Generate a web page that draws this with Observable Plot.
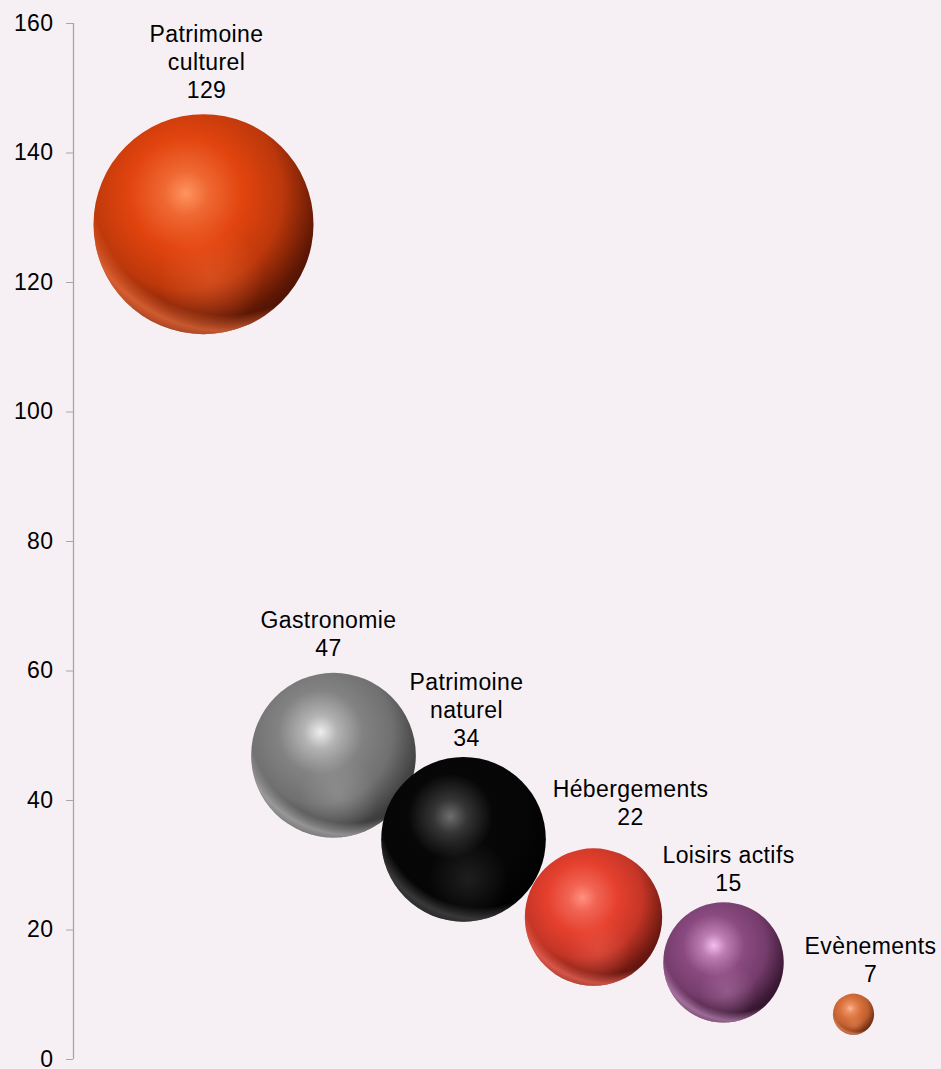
<!DOCTYPE html>
<html>
<head>
<meta charset="utf-8">
<script src="https://cdn.jsdelivr.net/npm/d3@7"></script>
<script src="https://cdn.jsdelivr.net/npm/@observablehq/plot@0.6"></script>
<style>
  html, body { margin: 0; padding: 0; background: #f6f0f5; }
  #chart svg text { letter-spacing: 0.4px; }
</style>
</head>
<body>
<div id="chart"></div>
<script>
// ---- Data ----
const categories = ["Patrimoine\nculturel", "Gastronomie", "Patrimoine\nnaturel", "Hébergements", "Loisirs actifs", "Evènements"];
const valeurs = [129, 47, 34, 22, 15, 7];
const tailles = [100, 56, 56, 39, 30, 3.5];
const rangs = [1, 2, 3, 4, 5, 6];
const yTicks = [0, 20, 40, 60, 80, 100, 120, 140, 160];

// ---- Styles (sphere colours, label placement) ----
const palette = [
  {base: "#e2440e", light: "#ff9460", dark: "#2a0600", rim: "#ff7a45"},
  {base: "#828282", light: "#eeeeee", dark: "#262626", rim: "#bcbcbc"},
  {base: "#070707", light: "#6e6e6e", dark: "#000000", rim: "#555555"},
  {base: "#e6402e", light: "#ff9080", dark: "#3e0a06", rim: "#ff7262"},
  {base: "#8a4a80", light: "#f6bcee", dark: "#1e0618", rim: "#cc94c4"},
  {base: "#d9703c", light: "#ffb890", dark: "#521a04", rim: "#f39464"}
];
const labelDx = [3, -5, 3, 37, 5, 17];
const labelGap = [16, 17, 11, 23, 11, 12];

const rows = categories.map((c, i) => ({nom: c, valeur: valeurs[i], taille: tailles[i], rang: rangs[i]}));

const rDomain = [0, 100], rRange = [0, 110];
const rS = d3.scaleSqrt().domain(rDomain).range(rRange);

const marks = [
  Plot.ruleX([0], {y1: 0, y2: 160, stroke: "#a6a6a6", strokeWidth: 1.3}),
  Plot.axisY({ticks: yTicks, tickSize: 7, tickPadding: 13, fontSize: 23, stroke: "#a6a6a6", fill: "#000", label: null, tickFormat: d => String(d)})
];

rows.forEach((row, i) => {
  const common = {x: "rang", y: "valeur", r: "taille", sort: null};
  marks.push(Plot.dot([row], {...common, fill: () => `url(#sph-main-${i})`}));
  marks.push(Plot.dot([row], {...common, fill: () => `url(#sph-spot-${i})`}));
  marks.push(Plot.dot([row], {...common, fill: () => `url(#sph-rim-${i})`}));
});

rows.forEach((row, i) => {
  marks.push(Plot.text([row], {
    x: "rang", y: "valeur",
    text: d => d.nom + "\n" + d.valeur,
    lineAnchor: "bottom",
    lineHeight: 1.22,
    dy: -(rS(row.taille) + labelGap[i]),
    dx: labelDx[i],
    fontSize: 23,
    fill: "#000"
  }));
});

const chart = Plot.plot({
  width: 941,
  height: 1069,
  marginLeft: 73,
  marginRight: 23,
  marginTop: 23,
  marginBottom: 10,
  style: {background: "#f6f0f5", fontFamily: "'Liberation Sans', Arial, sans-serif", color: "#000"},
  x: {domain: [0, 6.5], axis: null},
  y: {domain: [0, 160], axis: null},
  r: {type: "sqrt", domain: rDomain, range: rRange},
  color: {type: "identity"},
  marks
});

// gradient definitions for the 3D sphere look
const ns = "http://www.w3.org/2000/svg";
const defs = document.createElementNS(ns, "defs");
function grad(id, attrs, stops) {
  const g = document.createElementNS(ns, "radialGradient");
  g.setAttribute("id", id);
  for (const k in attrs) g.setAttribute(k, attrs[k]);
  for (const [o, c, a] of stops) {
    const s = document.createElementNS(ns, "stop");
    s.setAttribute("offset", o);
    s.setAttribute("stop-color", c);
    s.setAttribute("stop-opacity", a == null ? 1 : a);
    g.appendChild(s);
  }
  defs.appendChild(g);
}
palette.forEach((p, i) => {
  const mix = (a, b, t) => d3.interpolateRgb(a, b)(t);
  grad(`sph-main-${i}`, {cx: 0.42, cy: 0.36, r: 0.78, fx: 0.42, fy: 0.36}, [
    [0, p.light],
    [0.13, mix(p.light, p.base, 0.55)],
    [0.33, p.base],
    [0.56, mix(p.base, p.dark, 0.2)],
    [0.78, mix(p.base, p.dark, 0.72)],
    [1, p.dark]
  ]);
  grad(`sph-spot-${i}`, {cx: 0.53, cy: 0.74, r: 0.24}, [
    [0, p.rim, 0.3],
    [1, p.rim, 0]
  ]);
  grad(`sph-rim-${i}`, {cx: 0.6, cy: 0.3, r: 0.72}, [
    [0, p.rim, 0],
    [0.85, p.rim, 0],
    [0.95, p.rim, 0.65],
    [1, p.rim, 0.5]
  ]);
});
chart.insertBefore(defs, chart.firstChild);

document.getElementById("chart").appendChild(chart);
</script>
</body>
</html>
